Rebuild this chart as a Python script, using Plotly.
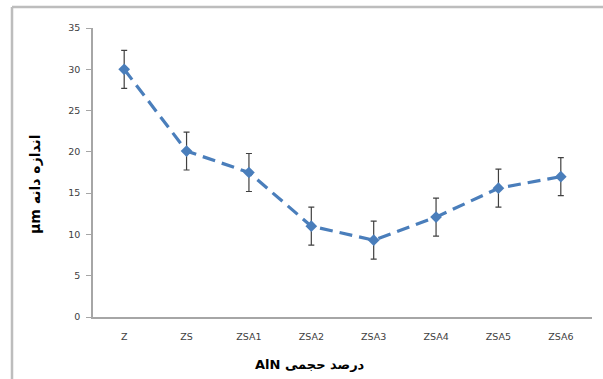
import plotly.graph_objects as go

categories = ["Z", "ZS", "ZSA1", "ZSA2", "ZSA3", "ZSA4", "ZSA5", "ZSA6"]
grain_size = [30.0, 20.1, 17.5, 11.0, 9.3, 12.1, 15.6, 17.0]
error = [2.3, 2.3, 2.3, 2.3, 2.3, 2.3, 2.3, 2.3]
y_ticks = [0, 5, 10, 15, 20, 25, 30, 35]

W, H = 603, 379
L, R, T, B = 93, 11, 28, 62
pw, ph = W - L - R, H - T - B

fig = go.Figure()
fig.add_trace(go.Scatter(
    x=categories, y=grain_size,
    mode="lines+markers",
    line=dict(color="#4a7ebb", width=3.2, dash="13px,7px"),
    marker=dict(symbol="diamond", size=9, color="#4a7ebb"),
    error_y=dict(type="data", array=error, visible=True,
                 color="#404040", thickness=1.2, width=3),
    showlegend=False,
))

tickfont = dict(family="DejaVu Sans", size=9.5, color="#404040")
bx = (12 - L) / pw
by = (H - B - 7) / ph
fig.update_layout(
    width=W, height=H,
    margin=dict(l=L, r=R, t=T, b=B),
    paper_bgcolor="white", plot_bgcolor="white",
    xaxis=dict(type="category", showgrid=False, showline=True,
               linecolor="#a6a6a6", linewidth=1.5, ticks="",
               tickfont=tickfont, ticklabelstandoff=10,
               range=[-0.5, len(categories) - 0.5], zeroline=False),
    yaxis=dict(range=[0, 35], tickvals=y_ticks, showgrid=False,
               showline=True, linecolor="#a6a6a6", linewidth=1.5,
               ticks="outside", ticklen=5, tickcolor="#a6a6a6",
               tickfont=tickfont, ticklabelstandoff=4, zeroline=False),
    shapes=[
        dict(type="line", xref="paper", yref="paper",
             x0=bx, x1=1.2, y0=by, y1=by,
             line=dict(color="#bdbdbd", width=2.5)),
        dict(type="line", xref="paper", yref="paper",
             x0=bx, x1=bx, y0=by, y1=-0.5,
             line=dict(color="#bdbdbd", width=2.5)),
    ],
    annotations=[
        dict(text="\u202bدرصد حجمی AlN\u202c", xref="paper", yref="paper",
             x=(310 - L) / pw, y=(H - B - 364) / ph, showarrow=False,
             xanchor="center", yanchor="middle",
             font=dict(family="DejaVu Sans", size=13, color="black", weight="bold")),
        dict(text="\u202bاندازه دانه µm\u202c", xref="paper", yref="paper",
             x=(35 - L) / pw, y=(H - B - 184) / ph, showarrow=False, textangle=-90,
             xanchor="center", yanchor="middle",
             font=dict(family="DejaVu Sans", size=14, color="black", weight="bold")),
    ],
)

fig.write_html(
    "out.html", config={"displayModeBar": False},
    post_script=("document.body.style.margin='0';"
                 "document.body.style.overflow='hidden';"
                 "document.documentElement.style.overflow='hidden';"))
